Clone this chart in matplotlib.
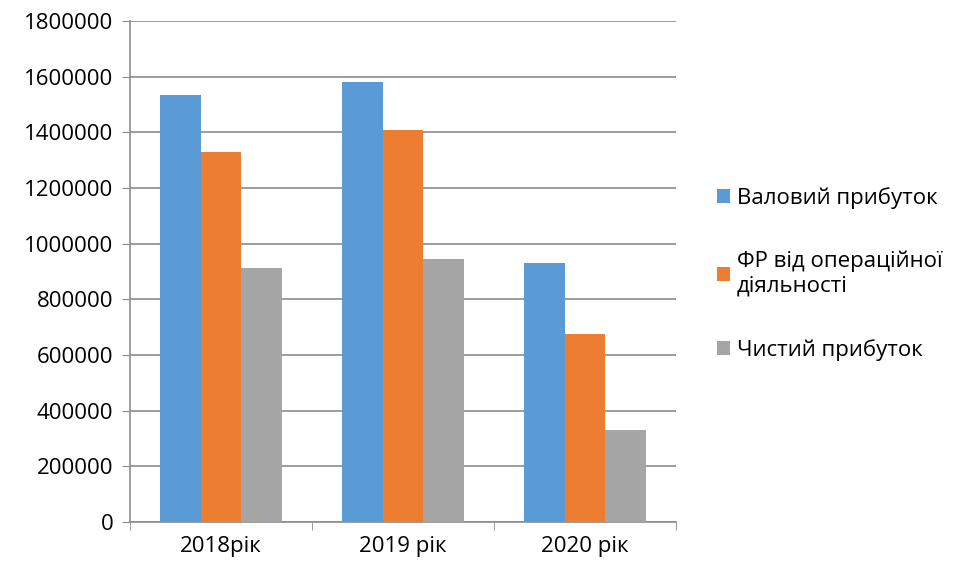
import matplotlib.pyplot as plt
import numpy as np

plt.rcParams['font.family'] = ['Open Sans', 'DejaVu Sans']

# Показники по роках, грн
years = ['2018рік', '2019 рік', '2020 рік']
gross_profit = [1535000, 1581000, 932000]
operating_result = [1331000, 1407000, 676000]
net_profit = [912000, 945000, 329000]

series = [
    ('Валовий прибуток', gross_profit, '#5B9BD5'),
    ('ФР від операційної\nдіяльності', operating_result, '#ED7D31'),
    ('Чистий прибуток', net_profit, '#A5A5A5'),
]

fig = plt.figure(figsize=(9.58, 5.70), dpi=100)
ax = fig.add_axes([130 / 958, 48 / 570, 546 / 958, 501 / 570])

x = np.arange(len(years))
width = 1 / 4.5
for i, (name, vals, color) in enumerate(series):
    ax.bar(x + (i - 1) * width, vals, width, color=color, label=name, zorder=3)

ax.set_xlim(-0.5, len(years) - 0.5)
ax.set_ylim(0, 1800000)
ax.set_yticks(np.arange(0, 1800001, 200000))
ax.yaxis.set_major_formatter(plt.FuncFormatter(lambda v, p: f'{int(v)}'))
ax.grid(axis='y', color='#8c8c8c', linewidth=1.2, zorder=0)

ax.set_xticks(x)
ax.set_xticklabels(years)
ax.set_xticks(np.arange(-0.5, len(years)), minor=True)
ax.tick_params(axis='x', which='major', length=0, labelsize=16, pad=10)
ax.tick_params(axis='x', which='minor', length=6, color='#8c8c8c')
ax.tick_params(axis='y', length=6, color='#8c8c8c', labelsize=16, pad=6)

for side in ['top', 'right']:
    ax.spines[side].set_visible(False)
for side in ['left', 'bottom']:
    ax.spines[side].set_color('#8c8c8c')
    ax.spines[side].set_linewidth(1.2)

fig.legend(loc='center left', bbox_to_anchor=(697 / 958, 0.52), frameon=False,
           fontsize=16, handlelength=0.6, handleheight=0.6, handletextpad=0.3,
           labelspacing=1.9)

fig.savefig('out.png', dpi=100)
